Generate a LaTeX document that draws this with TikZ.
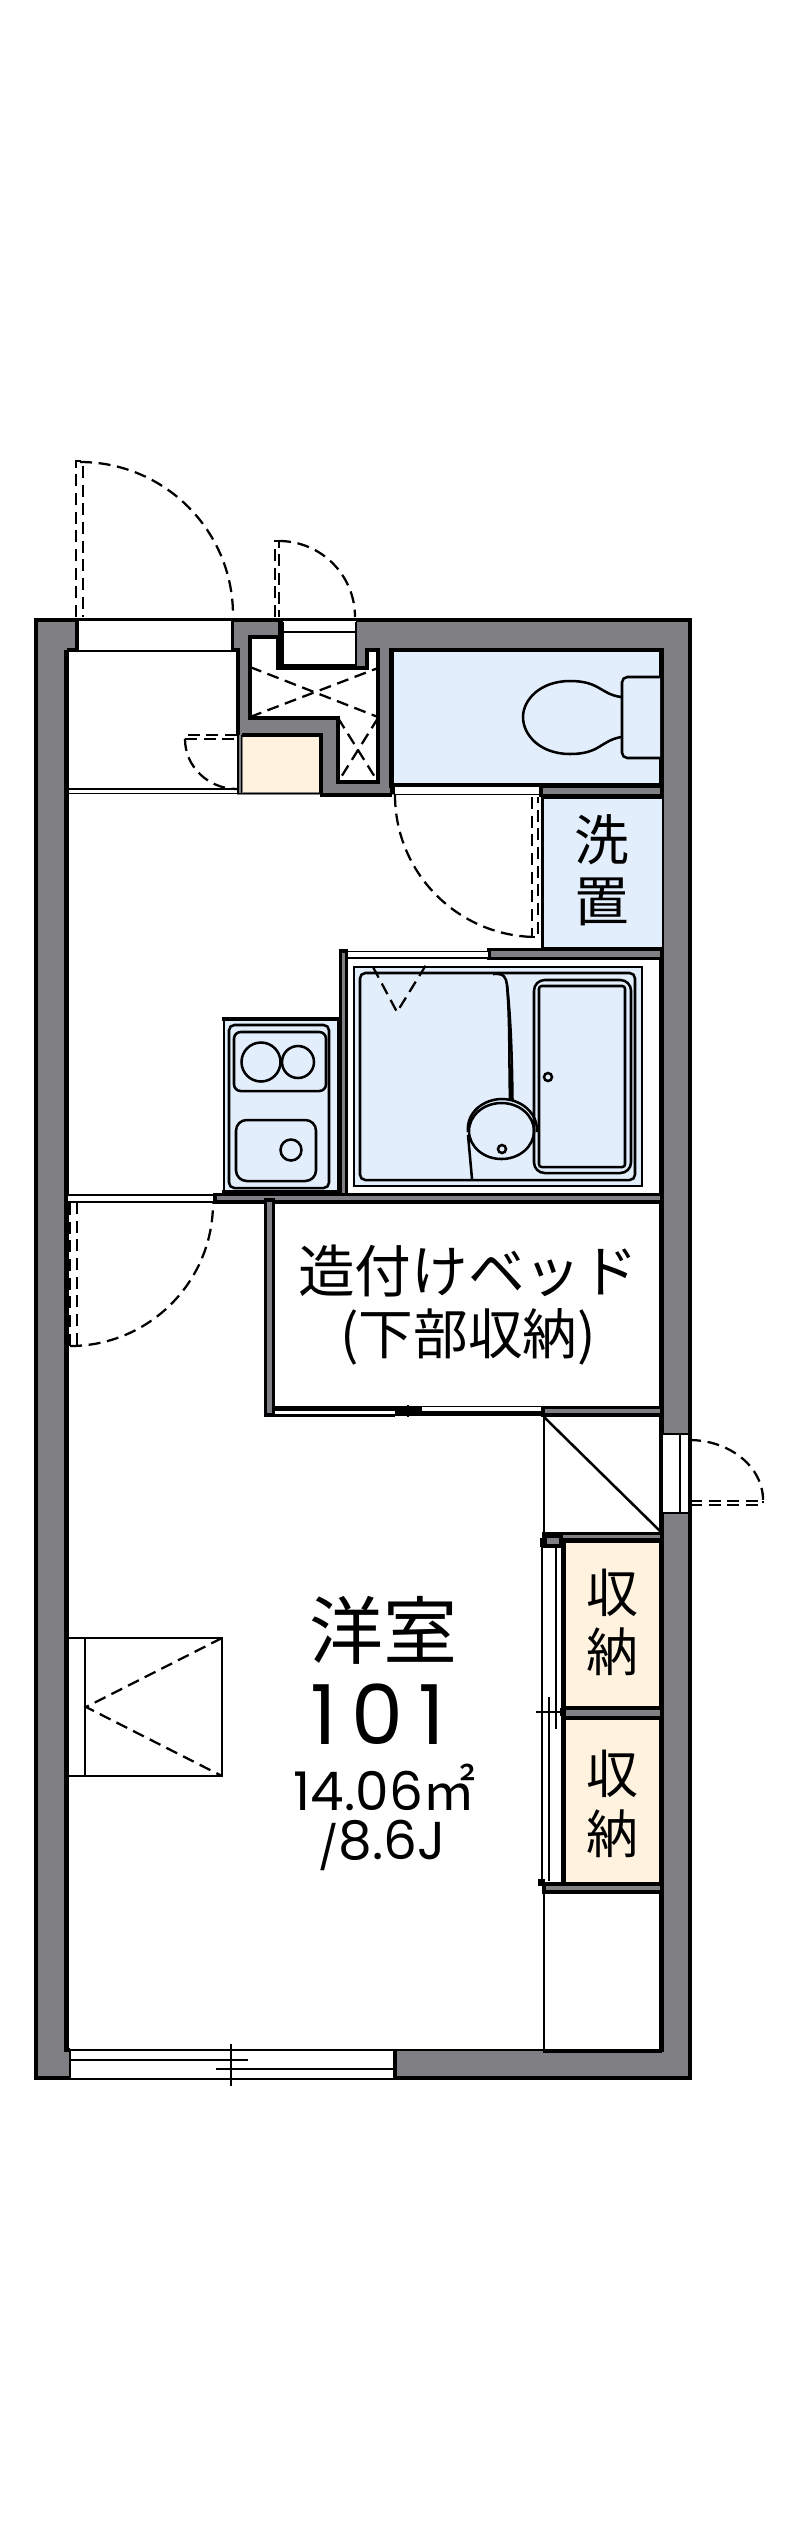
\documentclass[tikz,border=0pt]{standalone}
\usepackage{fontspec}
\setmainfont{Poppins}
\newfontfamily\cjk{Noto Sans CJK JP}
\definecolor{wallgray}{HTML}{807F84}
\definecolor{wetblue}{HTML}{E3EEFC}
\definecolor{closetcream}{HTML}{FFF3E0}
\tikzset{
  wall/.style={draw=black,line width=2.4pt,fill=wallgray},
  heavy/.style={line width=3.2pt},
  medium/.style={line width=1.9pt},
  fine/.style={line width=1.3pt},
  doordash/.style={line width=1.7pt,dash pattern=on 9pt off 5pt},
  roomtext/.style={inner sep=0pt,align=center}
}
\begin{document}
\begin{tikzpicture}[x=0.75pt,y=-0.75pt]
        
        \def\wallL{36}
        \def\wallR{690}
        \def\wallT{620}
        \def\wallB{2078}
        \def\inL{66.5}
        \def\inR{661.5}
        
        \useasboundingbox[fill=white] (0,0) rectangle (800,2539);
        
        \draw[wall,heavy] (\wallL,\wallT) rectangle (\wallR,\wallB);
        
        \fill[white] (\inL,795) rectangle (\inR,2050);
        \fill[white] (\inL,652) rectangle (237,795);
        \draw[heavy] (\inL,650) -- (\inL,2052);
        \draw[heavy] (\inR,650) -- (\inR,2052);
        \draw[heavy] (\inL,650) -- (79,650);
        \draw[heavy] (232,650) -- (238,650) -- (238,735);
        
        \fill[white] (79,621) rectangle (232,650);
        \draw[fine] (79,619.5) -- (232,619.5);
        \draw[fine] (79,651) -- (232,651);
        \draw[heavy] (77,618) -- (77,652);
        \draw[medium] (232.5,618) -- (232.5,650);
        \draw[doordash] (76,617) -- (76,461) -- (83,461) -- (83,617);
        \draw[doordash] (80,462) arc[start angle=-90,end angle=0,radius=153];
        
        \draw[heavy,fill=white] (250,637) -- (278,637) -- (278,668) -- (367,668) -- (367,650) -- (378,650) -- (378,782) -- (338,782) -- (338,718) -- (250,718) -- cycle;
        \draw[doordash] (250,667) -- (378,717);
        \draw[doordash] (250,717) -- (378,668);
        \draw[doordash] (338,718) -- (378,782);
        \draw[doordash] (378,718) -- (338,782);
        
        \fill[white] (283,620) rectangle (356,666);
        \draw[line width=4.5pt] (281,622) -- (281,667) -- (356,667);
        \draw[medium] (356,622) -- (356,666);
        \draw[fine] (283,620) -- (356,620);
        \draw[fine] (283,632) -- (356,632);
        \draw[doordash] (275,617) -- (275,541) -- (279,541) -- (279,617);
        \draw[doordash] (279,541) arc[start angle=-90,end angle=0,radius=76];
        
        \draw[heavy,fill=closetcream] (242,735) -- (321,735) -- (321,793);
        \fill[closetcream] (243,737) rectangle (319,792);
        \draw[fine] (238,735) -- (238,793);
        \draw[fine] (241.5,735) -- (241.5,793);
        \draw[fine] (\inL,789) -- (237,789);
        \draw[fine] (\inL,793.5) -- (320,793.5);
        \draw[doordash] (237,735) -- (185,735) -- (185,739) -- (237,739);
        \draw[doordash] (185,739) arc[start angle=180,end angle=90,x radius=52,y radius=50];
        \draw[heavy] (320,795) -- (392,795);
        
        \draw[heavy,fill=wetblue] (391.5,650) rectangle (\inR,785.5);
        \draw[medium,fill=wetblue,rounded corners=4pt] (660,677) -- (622,677) -- (622,758) -- (660,758);
        \draw[medium] (621,697) .. controls (600,694) and (600,681) .. (570,681) .. controls (540,681) and (523,700) .. (523,717) .. controls (523,735) and (540,754) .. (570,754) .. controls (600,754) and (600,741) .. (621,737);
        
        \fill[white] (394,787) rectangle (540,794);
        \draw[fine] (394,786.5) -- (540,786.5);
        \draw[fine] (394,794.5) -- (540,794.5);
        \draw[line width=3.5pt] (392.5,785) -- (392.5,794);
        \draw[doordash] (395,795) arc[start angle=180,end angle=90,radius=142];
        \draw[doordash] (532,797) -- (532,937) -- (538,937) -- (538,797);
        
        \draw[wall] (541,786.5) rectangle (\inR,795.5);
        \draw[heavy,fill=wetblue] (\inR,797) -- (543,797) -- (543,949) -- (\inR,949);
        \fill[wetblue] (544,799) rectangle (660,947);
        \draw[medium] (542.5,797) -- (542.5,949);
        \node[roomtext,font=\cjk\fontsize{41}{45}\selectfont] (wash) at (602,840) {洗};
        \node[roomtext,font=\cjk\fontsize{41}{45}\selectfont] (place) at (602,902) {置};
        
        \draw[wall] (489,949.5) rectangle (\inR,958.5);
        \fill[white] (347,952) rectangle (488,958);
        \draw[fine] (347,951.5) -- (488,951.5);
        \draw[fine] (347,958) -- (488,958);
        \draw[wall] (340.5,951) rectangle (346.5,1196);
        \draw[heavy] (\inR,960) -- (\inR,1195);
        
        \draw[medium,fill=wetblue] (354,967) rectangle (642,1186);
        \draw[medium,rounded corners=4pt] (360,973) rectangle (635,1180);
        \draw[medium,rounded corners=8pt] (534,980) rectangle (631,1173);
        \draw[medium,rounded corners=2pt] (539,986) rectangle (625,1167);
        \draw[medium] (548,1077) circle[radius=4];
        \draw[medium] (493,974) .. controls (505,973) and (506,978) .. (507,985) .. controls (511,1020) and (512,1060) .. (512.5,1100);
        \draw[medium] (507,985) .. controls (510,1020) and (509,1060) .. (510,1100);
        \draw[medium] (468,1132) .. controls (466,1112) and (484,1099) .. (502,1099) .. controls (520,1099) and (538,1112) .. (537,1132);
        \draw[medium] (501.5,1131) ellipse[x radius=32.5,y radius=28];
        \draw[medium] (502,1149) circle[radius=4];
        \draw[medium] (468,1135) -- (472,1179);
        \draw[doordash] (373,967) -- (397,1012) -- (426,965);
        
        \draw[medium,fill=wetblue] (224,1020) rectangle (338,1192);
        \draw[heavy] (222,1019) -- (340,1019);
        \draw[heavy] (222,1192) -- (340,1192);
        \draw[medium,rounded corners=4pt] (229,1025) rectangle (329,1188);
        \draw[medium,rounded corners=5pt] (234,1032) rectangle (326,1091);
        \draw[medium] (261,1062) circle[radius=19.5];
        \draw[medium] (298,1062) circle[radius=16];
        \draw[medium,rounded corners=8pt] (236,1120) rectangle (316,1181);
        \draw[medium] (291,1150) circle[radius=10.5];
        
        \fill[white] (68,1196) rectangle (215,1202);
        \draw[fine] (\inL,1195) -- (215,1195);
        \draw[fine] (\inL,1202) -- (215,1202);
        \draw[wall] (215,1194.5) rectangle (\inR,1202);
        \draw[doordash] (70,1203) -- (70,1345) -- (77,1345) -- (77,1203);
        \draw[doordash] (70,1346) arc[start angle=90,end angle=0,radius=143];
        
        \draw[wall] (265.5,1200) rectangle (273.5,1415);
        \draw[line width=3.5pt] (274,1408.5) -- (395,1408.5);
        \draw[medium] (274,1415.5) -- (395,1415.5);
        \fill (395,1406) rectangle (422,1416);
        \draw[medium] (408,1405) -- (408,1417);
        \draw[fine] (422,1406.5) -- (541,1406.5);
        \draw[heavy] (422,1413.5) -- (541,1413.5);
        \draw[wall] (543,1407.5) rectangle (\inR,1415);
        \draw[medium] (544,1416) -- (544,1533);
        \draw[medium] (544,1417) -- (660,1531);
        \node[roomtext,font=\cjk\fontsize{42.5}{45}\selectfont] (bed) at (468,1271) {造付けベッド};
        \node[roomtext,font=\cjk\fontsize{41}{45}\selectfont] (under) at (468,1337) {(下部収納)};
        
        \fill[white] (663,1435) rectangle (689,1513);
        \draw[medium] (661,1434) -- (692,1434);
        \draw[medium] (661,1513) -- (692,1513);
        \draw[fine] (680,1435) -- (680,1513);
        \draw[medium] (689.5,1435) -- (689.5,1513);
        \draw[doordash] (690,1501) -- (763,1501) -- (763,1493);
        \draw[doordash] (690,1505) -- (763,1505) -- (763,1501);
        \draw[doordash] (689,1440) arc[start angle=-90,end angle=0,x radius=74,y radius=60];
        
        \draw[wall] (544,1533.5) rectangle (\inR,1540);
        \draw[wall] (545,1536) rectangle (561,1546);
        \draw[heavy,fill=closetcream] (563.5,1540.5) rectangle (\inR,1708);
        \draw[wall] (563,1708) rectangle (\inR,1718);
        \draw[heavy,fill=closetcream] (563.5,1718) rectangle (\inR,1884);
        \draw[wall] (544,1884) rectangle (\inR,1892);
        \fill (540,1538) rectangle (545,1547);
        \fill (538,1879) rectangle (545,1886);
        \fill (560,1708) rectangle (566,1716);
        \draw[medium] (542,1545) -- (542,1885);
        \draw[medium] (556,1547) -- (556,1729);
        \draw[medium] (549,1697) -- (549,1881);
        \draw[medium] (536,1712) -- (563,1712);
        \node[roomtext,font=\cjk\fontsize{39}{45}\selectfont] (shuA) at (612,1593) {収};
        \node[roomtext,font=\cjk\fontsize{39}{45}\selectfont] (noA) at (612,1652) {納};
        \node[roomtext,font=\cjk\fontsize{39}{45}\selectfont] (shuB) at (612,1774) {収};
        \node[roomtext,font=\cjk\fontsize{39}{45}\selectfont] (noB) at (612,1834) {納};
        
        \draw[medium] (544,1893) -- (544,2050);
        
        \draw[fine] (\inL,1638) -- (222,1638) -- (222,1776) -- (\inL,1776);
        \draw[medium] (85,1638) -- (85,1776);
        \draw[doordash] (222,1638) -- (86,1707) -- (222,1776);
        
        \node[roomtext,font=\cjk\fontsize{55.5}{60}\selectfont] (room) at (383.5,1630) {洋室};
        \node[roomtext,font=\fontsize{62}{70}\selectfont\addfontfeatures{LetterSpace=18}] (number) at (378,1714.5) {101};
        \node[roomtext,font=\fontsize{40}{45}\selectfont] (area) at (385,1787) {14.06{\cjk ㎡}};
        \node[roomtext,font=\fontsize{40}{45}\selectfont] (mats) at (382,1845) {{\fontsize{32}{45}\selectfont\raisebox{-3pt}{/}}8.6J};
        
        \fill[white] (70,2050.5) rectangle (393,2078);
        \draw[heavy] (\inL,2050) -- (70,2050);
        \draw[medium] (70,2050) -- (393,2050);
        \draw[medium] (70,2079) -- (393,2079);
        \draw[medium] (70,2050) -- (70,2080);
        \draw[medium] (70,2060) -- (248,2060);
        \draw[fine] (216,2069) -- (393,2069);
        \draw[medium] (231,2044) -- (231,2086);
        \draw[heavy] (395,2049) -- (395,2080);
        \draw[heavy] (543,2051) -- (\inR,2051);
        \draw[medium] (395,2050) -- (543,2050);
        
\end{tikzpicture}
\end{document}
